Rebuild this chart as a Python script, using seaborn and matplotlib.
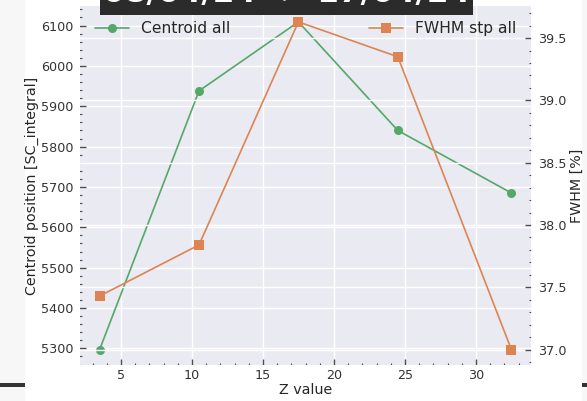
import matplotlib
matplotlib.use("Agg")
import matplotlib.pyplot as plt
from matplotlib.patches import Rectangle
from matplotlib.ticker import AutoMinorLocator
import seaborn as sns
import pandas as pd

# datos
z_values = [3.5, 10.5, 17.5, 24.5, 32.5]
centroid = [5297, 5938, 6109, 5840, 5685]
fwhm = [37.43, 37.84, 39.63, 39.35, 37.0]

df = pd.DataFrame({"Z": z_values, "Centroid": centroid, "FWHM": fwhm})

sns.set_theme(style="darkgrid")
plt.rcParams["font.family"] = ["DejaVu Sans"]

fig = plt.figure(figsize=(5.87, 4.01), dpi=100)
ax1 = fig.add_axes([0.1346, 0.0873, 0.7717, 0.8990])
ax2 = ax1.twinx()

green = sns.color_palette("deep")[2]
orange = sns.color_palette("deep")[1]

sns.lineplot(data=df, x="Z", y="Centroid", ax=ax1, color=green, marker="o",
             markersize=6.5, markeredgewidth=0, linewidth=1.2, label="Centroid all")
sns.lineplot(data=df, x="Z", y="FWHM", ax=ax2, color=orange, marker="s",
             markersize=6.5, markeredgewidth=0, linewidth=1.2, label="FWHM stp all")

ax1.set_xlabel("Z value", fontsize=10.3, labelpad=1)
ax1.set_ylabel("Centroid position [SC_integral]", fontsize=10.3, labelpad=1.5)
ax2.set_ylabel("FWHM [%]", fontsize=10.3, labelpad=3)

for ax in (ax1, ax2):
    ax.yaxis.set_minor_locator(AutoMinorLocator())
    ax.tick_params(which="major", direction="in", length=5, width=1, color="0.3",
                   labelsize=9.2, labelcolor="0.2", pad=4)
    ax.tick_params(which="minor", direction="in", length=2.5, width=0.8, color="0.3")
ax1.xaxis.set_minor_locator(AutoMinorLocator())
ax1.tick_params(axis="x", which="both", bottom=True, pad=2)
ax1.tick_params(axis="y", which="both", left=True)
ax2.tick_params(axis="y", which="both", right=True)

ax1.legend(loc="upper left", frameon=False, fontsize=11.2,
           borderaxespad=0.6, handlelength=2.2)
ax2.legend(loc="upper right", frameon=False, fontsize=11.2,
           borderaxespad=0.6, handlelength=2.2)

# titulo cortado arriba
fig.add_artist(Rectangle((100 / 587, 1 - 15 / 401), 373 / 587, 15 / 401,
                         transform=fig.transFigure, facecolor="#2b2b2b",
                         edgecolor="none", zorder=5))
fig.text(286.5 / 587, 1 - 2 / 401, "08/04/24 -> 17/04/24", ha="center", va="baseline",
         fontsize=22.5, fontweight="bold", color="white", zorder=6)

# bordes del notebook
fig.add_artist(Rectangle((0, 0), 25 / 587, 1, transform=fig.transFigure,
                         facecolor="#f7f7f7", edgecolor="none", zorder=-1))
fig.add_artist(Rectangle((582 / 587, 0), 5 / 587, 1, transform=fig.transFigure,
                         facecolor="#f7f7f7", edgecolor="none", zorder=-1))
fig.add_artist(Rectangle((0, 1 - 387 / 401), 25 / 587, 4 / 401, transform=fig.transFigure,
                         facecolor="#333333", edgecolor="none"))
fig.add_artist(Rectangle((582 / 587, 1 - 387 / 401), 5 / 587, 4 / 401, transform=fig.transFigure,
                         facecolor="#333333", edgecolor="none"))

fig.savefig("out.png", dpi=100)
